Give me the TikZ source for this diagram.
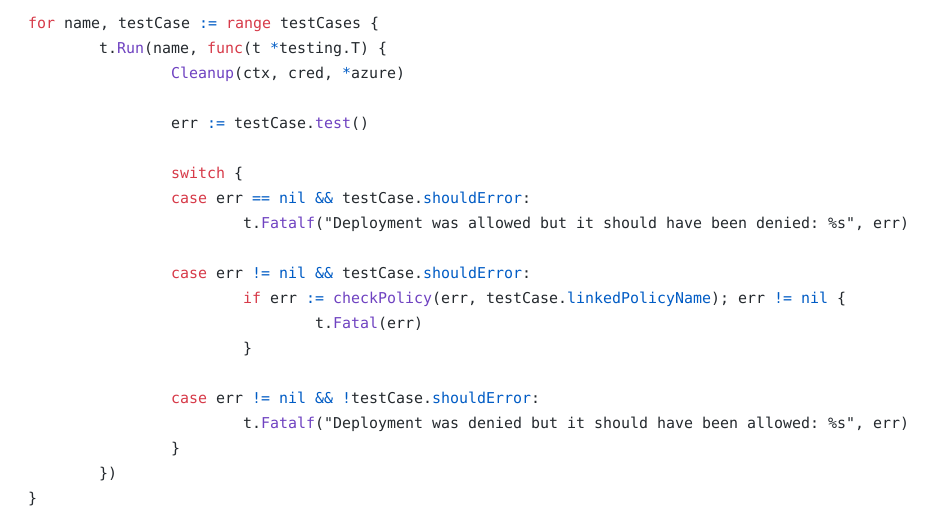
\documentclass[tikz,border=0pt]{standalone}
\usepackage{fontspec}
\setmonofont{DejaVu Sans Mono}
\definecolor{kw}{HTML}{D73A49}
\definecolor{op}{HTML}{005CC5}
\definecolor{fn}{HTML}{6F42C1}
\definecolor{tx}{HTML}{24292E}
\newcommand{\K}[1]{\textcolor{kw}{#1}}
\newcommand{\B}[1]{\textcolor{op}{#1}}
\newcommand{\F}[1]{\textcolor{fn}{#1}}
\tikzset{code/.style={anchor=base west,inner sep=0pt,text=tx,font=\ttfamily\fontsize{14.95}{18}\selectfont}}
\begin{document}
\begin{tikzpicture}[x=1pt,y=1pt]
\useasboundingbox[fill=white] (0,0) rectangle (929,-524);
\node[code] (l1) at (28,-28.5) {\K{for} name, testCase \B{:=} \K{range} testCases \{};
\node[code] (l2) at (99,-53.5) {t.\F{Run}(name, \K{func}(t \B{*}testing.T) \{};
\node[code] (l3) at (171,-78.5) {\F{Cleanup}(ctx, cred, \B{*}azure)};
\node[code] (l5) at (171,-128.5) {err \B{:=} testCase.\F{test}()};
\node[code] (l7) at (171,-178.5) {\K{switch} \{};
\node[code] (l8) at (171,-203.5) {\K{case} err \B{==} \B{nil} \B{\&\&} testCase.\B{shouldError}:};
\node[code] (l9) at (243,-228.5) {t.\F{Fatalf}("Deployment was allowed but it should have been denied: \%s", err)};
\node[code] (l11) at (171,-278.5) {\K{case} err \B{!=} \B{nil} \B{\&\&} testCase.\B{shouldError}:};
\node[code] (l12) at (243,-303.5) {\K{if} err \B{:=} \F{checkPolicy}(err, testCase.\B{linkedPolicyName}); err \B{!=} \B{nil} \{};
\node[code] (l13) at (315,-328.5) {t.\F{Fatal}(err)};
\node[code] (l14) at (243,-353.5) {\}};
\node[code] (l16) at (171,-403.5) {\K{case} err \B{!=} \B{nil} \B{\&\&} \B{!}testCase.\B{shouldError}:};
\node[code] (l17) at (243,-428.5) {t.\F{Fatalf}("Deployment was denied but it should have been allowed: \%s", err)};
\node[code] (l18) at (171,-453.5) {\}};
\node[code] (l19) at (99,-478.5) {\})};
\node[code] (l20) at (28,-503.5) {\}};
\end{tikzpicture}
\end{document}
